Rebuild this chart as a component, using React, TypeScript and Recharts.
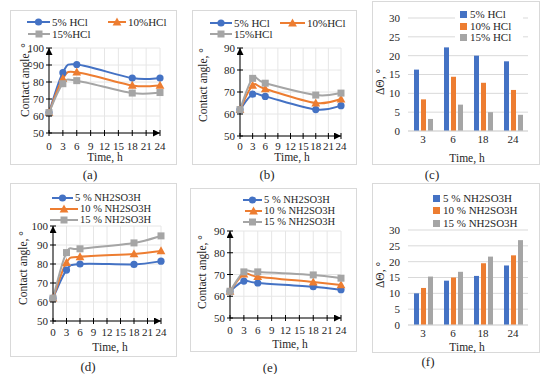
import React from "react";
import { LineChart, Line, BarChart, Bar, XAxis, YAxis, CartesianGrid, Legend } from "recharts";

const FONT = "'Liberation Serif', 'Times New Roman', serif";
const TXT = "#262626";
const BLUE = "#4472C4";
const ORANGE = "#ED7D31";
const GRAY = "#A5A5A5";
const COLORS = [BLUE, ORANGE, GRAY];
const SHAPES = ["circle", "triangle", "square"];

// time, h
const hours = [0, 3, 6, 18, 24];
const hourTicks = [0, 3, 6, 9, 12, 15, 18, 21, 24];
const barHours = ["3", "6", "18", "24"];

// (a) contact angle, HCl
const aHcl5 = [62, 85.5, 90.3, 82.3, 82.3];
const aHcl10 = [62, 82, 85.8, 78, 78];
const aHcl15 = [62, 79, 80.8, 73.5, 73.8];
// (b) contact angle, HCl
const bHcl5 = [62, 69, 68, 62, 63.8];
const bHcl10 = [62, 73, 71.4, 65, 66.8];
const bHcl15 = [62, 76.2, 74, 68.6, 69.5];
// (c) delta theta, HCl
const cHcl5 = [16.3, 22.2, 20, 18.5];
const cHcl10 = [8.4, 14.4, 12.8, 10.9];
const cHcl15 = [3.2, 7, 5, 4.3];
// (d) contact angle, sulfamic acid
const dSulf5 = [62, 76.8, 80, 79.8, 81.5];
const dSulf10 = [62, 80.7, 83.8, 85.3, 86.9];
const dSulf15 = [62, 86, 88, 91.1, 94.8];
// (e) contact angle, sulfamic acid
const eSulf5 = [62.3, 67, 66.1, 64.4, 63];
const eSulf10 = [62.3, 70.2, 69, 66.5, 65.2];
const eSulf15 = [62.3, 71.2, 71.2, 69.8, 68.3];
// (f) delta theta, sulfamic acid
const fSulf5 = [10, 14, 15.5, 18.8];
const fSulf10 = [11.7, 15, 19.5, 22];
const fSulf15 = [15.3, 16.8, 21.6, 26.8];

const hclLine = ["5% HCl", "10%HCl", "15%HCl"];
const hclBar = ["5% HCl", "10% HCl", "15% HCl"];
const sulfNames = ["5 % NH2SO3H", "10 % NH2SO3H", "15 % NH2SO3H"];

const rows = (xs: any[], s: number[][]) =>
  xs.map((x, i) => ({ x, s0: s[0][i], s1: s[1][i], s2: s[2][i] }));

// Excel-like smoothed line (catmull-rom through the points)
const smooth = (context: any) => {
  let pts: number[][] = [];
  return {
    areaStart() {},
    areaEnd() {},
    lineStart() {
      pts = [];
    },
    point(x: number, y: number) {
      pts.push([+x, +y]);
    },
    lineEnd() {
      if (!pts.length) return;
      context.moveTo(pts[0][0], pts[0][1]);
      for (let i = 0; i < pts.length - 1; i++) {
        const p0 = pts[i - 1] || pts[i];
        const p1 = pts[i];
        const p2 = pts[i + 1];
        const p3 = pts[i + 2] || p2;
        context.bezierCurveTo(
          p1[0] + (p2[0] - p0[0]) / 6,
          p1[1] + (p2[1] - p0[1]) / 6,
          p2[0] - (p3[0] - p1[0]) / 6,
          p2[1] - (p3[1] - p1[1]) / 6,
          p2[0],
          p2[1]
        );
      }
    },
  };
};

function Marker({ kind, cx, cy, color }: any) {
  if (kind === "circle") return <circle cx={cx} cy={cy} r={3.6} fill={color} />;
  if (kind === "triangle")
    return <path d={`M${cx},${cy - 4.6}L${cx + 4.4},${cy + 3.4}L${cx - 4.4},${cy + 3.4}Z`} fill={color} />;
  return <rect x={cx - 3.5} y={cy - 3.5} width={7} height={7} fill={color} />;
}

const XTick = ({ x, y, payload, dy }: any) => (
  <g>
    <line x1={x} x2={x} y1={y - 3} y2={y + 3} stroke="#000" />
    <text x={x} y={y + dy} textAnchor="middle" fontSize={11} fontFamily={FONT} fill={TXT}>
      {payload.value}
    </text>
  </g>
);

const YTick = ({ x, y, payload }: any) => (
  <g>
    <line x1={x - 3} x2={x + 3} y1={y} y2={y} stroke="#000" />
    <text x={x - 5} y={y + 4} textAnchor="end" fontSize={11} fontFamily={FONT} fill={TXT}>
      {payload.value}
    </text>
  </g>
);

const title = (text: string, x: number, y: number, vertical: boolean) => () =>
  (
    <text
      transform={`translate(${x},${y})${vertical ? " rotate(-90)" : ""}`}
      textAnchor="middle"
      dominantBaseline="central"
      fontSize={11.5}
      fontFamily={FONT}
      fill={TXT}
    >
      {text}
    </text>
  );

function LegendBox({ names, spots, bar, bg }: any) {
  return (
    <div style={{ position: "relative", width: "100%", height: "100%" }}>
      {bg && <div style={{ position: "absolute", background: "#fff", ...bg }} />}
      {names.map((name: string, i: number) => {
        const s = spots[i];
        const color = COLORS[i];
        return (
          <div
            key={name}
            style={{
              position: "absolute",
              left: s.x,
              top: s.y - 5,
              height: 10,
              display: "flex",
              alignItems: "center",
              whiteSpace: "nowrap",
              fontFamily: FONT,
              fontSize: s.fs || 11,
              lineHeight: "10px",
              color: TXT,
            }}
          >
            {bar ? (
              <span style={{ width: 7, height: 7, background: color, marginRight: 3 }} />
            ) : (
              <svg width={s.w} height={10} style={{ marginRight: 2 }}>
                <line x1={0} x2={s.w} y1={5} y2={5} stroke={color} strokeWidth={2} />
                <Marker kind={SHAPES[i]} cx={s.w / 2} cy={5} color={color} />
              </svg>
            )}
            <span>{name}</span>
          </div>
        );
      })}
    </div>
  );
}

function Frame({ box }: any) {
  return (
    <div
      style={{
        position: "absolute",
        left: box.x,
        top: box.y,
        width: box.w,
        height: box.h,
        boxSizing: "border-box",
        border: "1px solid #d9d9d9",
      }}
    />
  );
}

function LinePanel({ box, plot, data, names, yDomain, yTicks, spots, yTitle, xTitle, xTickDy }: any) {
  const top = plot.t - box.y;
  const right = box.x + box.w - plot.r;
  const left = plot.l - box.x;
  const bottom = box.y + box.h - plot.b;
  return (
    <>
      <Frame box={box} />
      <div style={{ position: "absolute", left: box.x, top: box.y, width: box.w, height: box.h }}>
        <LineChart width={box.w} height={box.h} data={data} margin={{ top, right, left: 0, bottom: 0 }}>
          <CartesianGrid stroke="#e6e6e6" />
          <XAxis
            dataKey="x"
            type="number"
            domain={[0, 24]}
            ticks={hourTicks}
            interval={0}
            height={bottom}
            tickSize={0}
            tickMargin={0}
            tickLine={false}
            axisLine={{ stroke: "#000", markerEnd: "url(#axArrow)" }}
            tick={(p: any) => <XTick {...p} dy={xTickDy} />}
            label={title("Time, h", xTitle[0], xTitle[1], false)}
          />
          <YAxis
            type="number"
            domain={yDomain}
            ticks={yTicks}
            interval={0}
            width={left}
            tickSize={0}
            tickMargin={0}
            tickLine={false}
            axisLine={{ stroke: "#000", markerStart: "url(#axArrow)" }}
            tick={(p: any) => <YTick {...p} />}
            label={title("Contact angle, \u00b0", yTitle[0], yTitle[1], true)}
          />
          <Legend
            layout="horizontal"
            verticalAlign="middle"
            align="center"
            wrapperStyle={{ left: 0, top: 0, width: box.w, height: box.h, pointerEvents: "none" }}
            content={() => <LegendBox names={names} spots={spots} />}
          />
          {names.map((n: string, i: number) => (
            <Line
              key={n}
              name={n}
              dataKey={`s${i}`}
              type={smooth as any}
              stroke={COLORS[i]}
              strokeWidth={2}
              isAnimationActive={false}
              dot={(p: any) => <Marker key={p.index} kind={SHAPES[i]} cx={p.cx} cy={p.cy} color={COLORS[i]} />}
              activeDot={false}
            />
          ))}
        </LineChart>
      </div>
    </>
  );
}

function BarPanel({ box, plot, data, names, spots, bg, yTitle, xTitle }: any) {
  const top = plot.t - box.y;
  const right = box.x + box.w - plot.r;
  const left = plot.l - box.x;
  const bottom = box.y + box.h - plot.b;
  const tickStyle = { fontSize: 11, fill: TXT, fontFamily: FONT };
  return (
    <>
      <Frame box={box} />
      <div style={{ position: "absolute", left: box.x, top: box.y, width: box.w, height: box.h }}>
        <BarChart
          width={box.w}
          height={box.h}
          data={data}
          margin={{ top, right, left: 0, bottom: 0 }}
          barSize={5}
          barGap={2}
        >
          <CartesianGrid vertical={false} stroke="#d9d9d9" />
          <XAxis
            dataKey="x"
            height={bottom}
            tickLine={false}
            tickSize={4}
            tickMargin={0}
            axisLine={{ stroke: "#d9d9d9" }}
            tick={tickStyle}
            label={title("Time, h", xTitle[0], xTitle[1], false)}
          />
          <YAxis
            domain={[0, 30]}
            ticks={[0, 5, 10, 15, 20, 25, 30]}
            interval={0}
            width={left}
            tickLine={false}
            axisLine={false}
            tick={tickStyle}
            label={title("\u0394\u0398, \u00b0", yTitle[0], yTitle[1], true)}
          />
          <Legend
            layout="horizontal"
            verticalAlign="middle"
            align="center"
            wrapperStyle={{ left: 0, top: 0, width: box.w, height: box.h, pointerEvents: "none" }}
            content={() => <LegendBox names={names} spots={spots} bar bg={bg} />}
          />
          {names.map((n: string, i: number) => (
            <Bar key={n} name={n} dataKey={`s${i}`} fill={COLORS[i]} isAnimationActive={false} />
          ))}
        </BarChart>
      </div>
    </>
  );
}

const SubLabel = ({ text, x, y }: any) => (
  <div
    style={{
      position: "absolute",
      left: x - 20,
      top: y - 9,
      width: 40,
      textAlign: "center",
      fontFamily: FONT,
      fontSize: 13,
      color: TXT,
      lineHeight: "18px",
    }}
  >
    {text}
  </div>
);

export default function App() {
  return (
    <div
      style={{
        position: "absolute",
        left: 0,
        top: 0,
        width: 550,
        height: 374,
        background: "#fff",
        overflow: "hidden",
      }}
    >
      <svg width={0} height={0} style={{ position: "absolute" }}>
        <defs>
          <marker
            id="axArrow"
            viewBox="0 0 10 10"
            refX="10"
            refY="5"
            markerWidth="7"
            markerHeight="7"
            markerUnits="userSpaceOnUse"
            orient="auto-start-reverse"
          >
            <path d="M0,0 L10,5 L0,10 z" fill="#000" />
          </marker>
        </defs>
      </svg>

      <LinePanel
        box={{ x: 10, y: 10, w: 167, h: 155 }}
        plot={{ l: 49, t: 48, r: 160, b: 133 }}
        data={rows(hours, [aHcl5, aHcl10, aHcl15])}
        names={hclLine}
        yDomain={[50, 100]}
        yTicks={[50, 60, 70, 80, 90, 100]}
        spots={[
          { x: 17, y: 12, w: 23 },
          { x: 98, y: 12, w: 18 },
          { x: 18, y: 24, w: 22 },
        ]}
        yTitle={[15, 70]}
        xTitle={[95, 147]}
        xTickDy={17}
      />
      <LinePanel
        box={{ x: 192, y: 10, w: 165, h: 155 }}
        plot={{ l: 240, t: 48, r: 341, b: 136 }}
        data={rows(hours, [bHcl5, bHcl10, bHcl15])}
        names={hclLine}
        yDomain={[50, 90]}
        yTicks={[50, 60, 70, 80, 90]}
        spots={[
          { x: 18, y: 13, w: 22 },
          { x: 88, y: 13, w: 25 },
          { x: 18, y: 24, w: 22 },
        ]}
        yTitle={[11, 75]}
        xTitle={[100, 147]}
        xTickDy={14}
      />
      <BarPanel
        box={{ x: 372, y: 1, w: 168, h: 164 }}
        plot={{ l: 408, t: 18, r: 528, b: 131 }}
        data={rows(barHours, [cHcl5, cHcl10, cHcl15])}
        names={hclBar}
        spots={[
          { x: 88, y: 13 },
          { x: 88, y: 25 },
          { x: 88, y: 36 },
        ]}
        bg={{ left: 83, top: 6, width: 68, height: 37 }}
        yTitle={[8, 81]}
        xTitle={[95, 157]}
      />

      <LinePanel
        box={{ x: 10, y: 183, w: 167, h: 174 }}
        plot={{ l: 53, t: 226, r: 161, b: 321 }}
        data={rows(hours, [dSulf5, dSulf10, dSulf15])}
        names={sulfNames}
        yDomain={[50, 100]}
        yTicks={[50, 60, 70, 80, 90, 100]}
        spots={[
          { x: 42, y: 15, w: 21, fs: 10.5 },
          { x: 40, y: 26, w: 28, fs: 10.5 },
          { x: 40, y: 37, w: 28, fs: 10.5 },
        ]}
        yTitle={[13, 85]}
        xTitle={[100, 164]}
        xTickDy={15}
      />
      <LinePanel
        box={{ x: 190, y: 188, w: 167, h: 164 }}
        plot={{ l: 230, t: 231, r: 341, b: 318 }}
        data={rows(hours, [eSulf5, eSulf10, eSulf15])}
        names={sulfNames}
        yDomain={[50, 90]}
        yTicks={[50, 60, 70, 80, 90]}
        spots={[
          { x: 53, y: 12, w: 19, fs: 10.5 },
          { x: 55, y: 23, w: 17, fs: 10.5 },
          { x: 53, y: 34, w: 19, fs: 10.5 },
        ]}
        yTitle={[12, 84]}
        xTitle={[100, 156]}
        xTickDy={16}
      />
      <BarPanel
        box={{ x: 372, y: 183, w: 168, h: 170 }}
        plot={{ l: 408, t: 230, r: 528, b: 325 }}
        data={rows(barHours, [fSulf5, fSulf10, fSulf15])}
        names={sulfNames}
        spots={[
          { x: 61, y: 15 },
          { x: 61, y: 27 },
          { x: 61, y: 40 },
        ]}
        yTitle={[8, 92]}
        xTitle={[95, 164]}
      />

      <SubLabel text="(a)" x={90} y={175} />
      <SubLabel text="(b)" x={267} y={175} />
      <SubLabel text="(c)" x={432} y={175} />
      <SubLabel text="(d)" x={88} y={367} />
      <SubLabel text="(e)" x={270} y={368} />
      <SubLabel text="(f)" x={428} y={362} />
    </div>
  );
}
